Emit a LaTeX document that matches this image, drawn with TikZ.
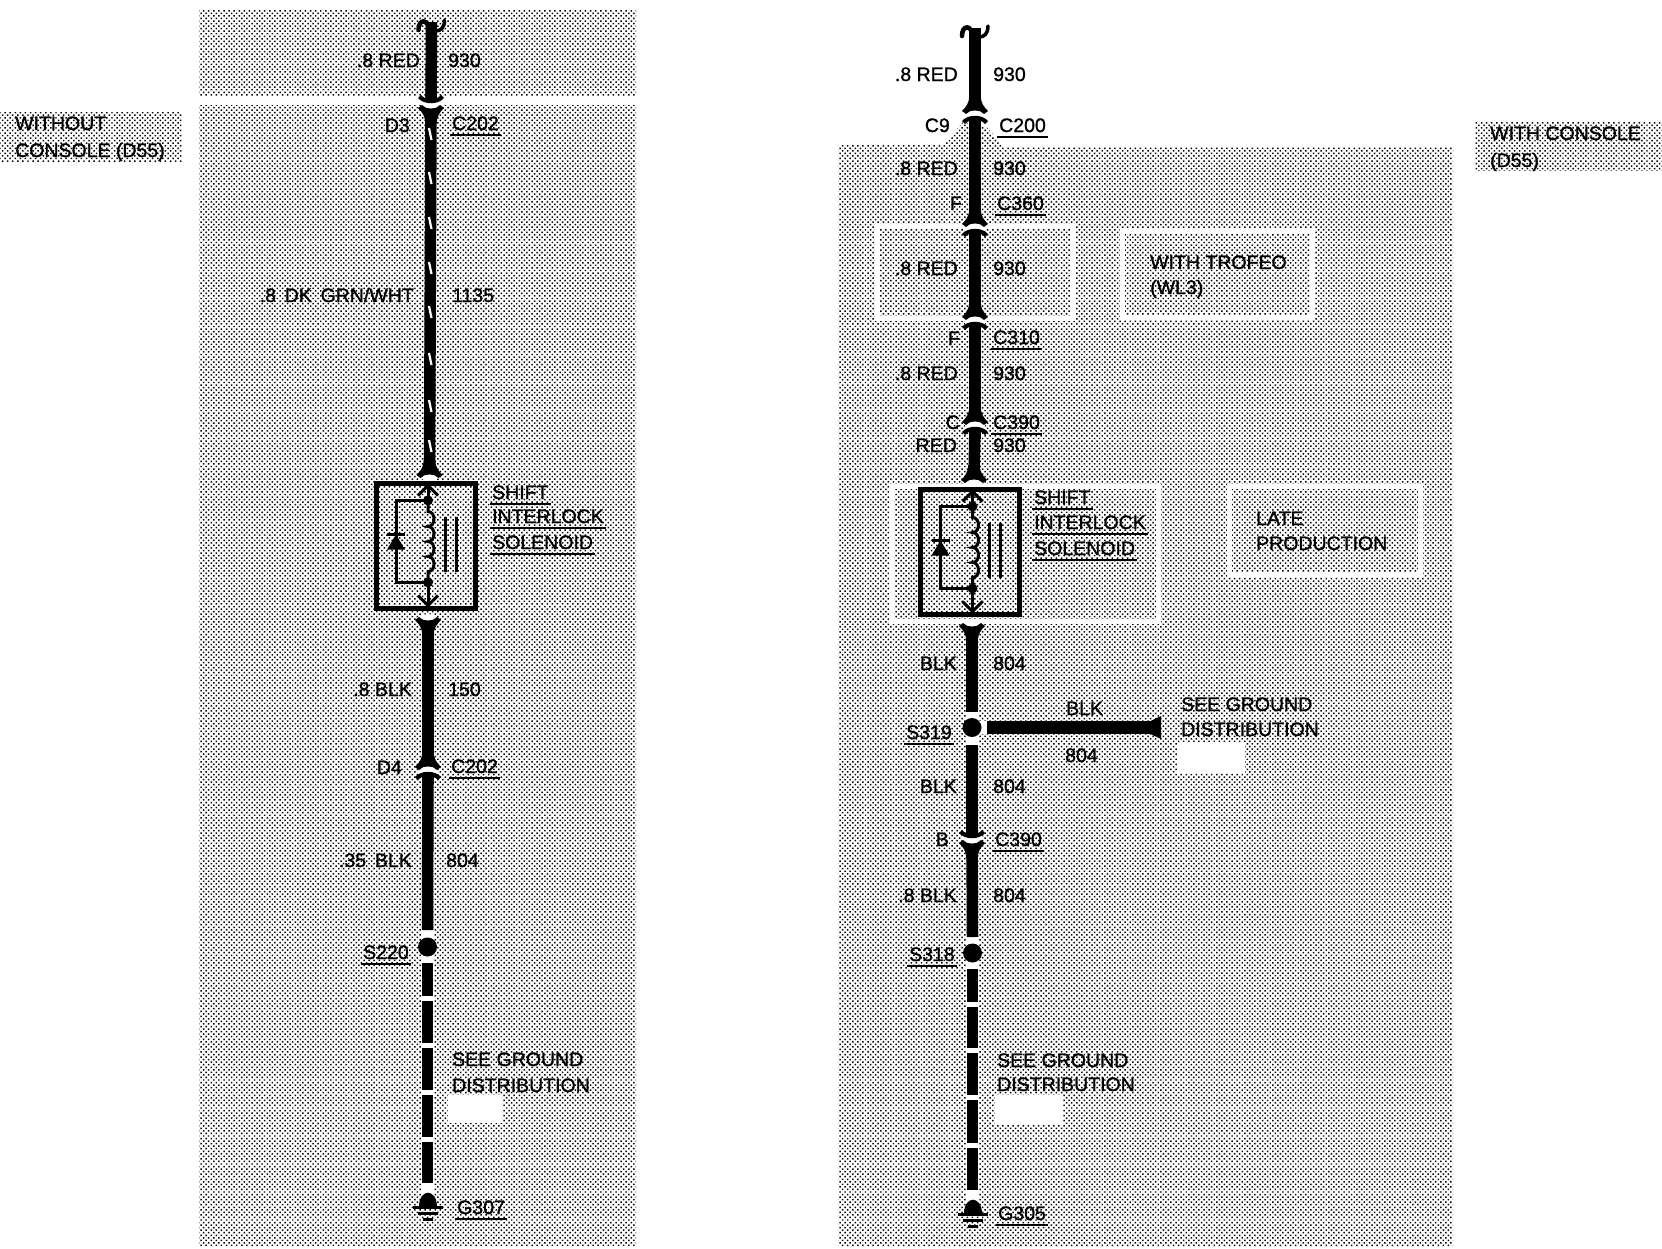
\documentclass[tikz,border=0pt]{standalone}
\usepackage{fontspec}
\setmainfont[FakeBold=1.1]{Liberation Sans}
\usetikzlibrary{patterns.meta}

\begin{document}
\begin{tikzpicture}[
  x=1pt,y=-1pt,
  font=\fontsize{19.5}{22}\selectfont,
  halftone/.style={pattern={Dots[radius=1.05pt,distance=3.6pt,angle=45]},pattern color=black},
  whitebox/.style={draw=white,line width=5pt},
  blank/.style={fill=white,inner sep=0pt},
  wire/.style={line width=11.5pt},
  halo/.style={line width=13pt,white},
  stripe/.style={white,line width=2.2pt},
  txt/.style={inner sep=0pt,text height=14pt,text depth=0pt},
  lft/.style={txt,anchor=east},
  rgt/.style={txt,anchor=west},
  ulabel/.style={rgt,append after command={
      ([xshift=-2pt,yshift=-5pt]\tikzlastnode.south west) edge[draw=black,line width=2.4pt]
      ([xshift=2pt,yshift=-5pt]\tikzlastnode.south east)}},
  splice/.style={circle,fill=black,minimum size=19pt,inner sep=0pt},
  fine/.style={line width=3pt},
  wire end/.pic={
    \draw[line width=4.5pt,line cap=round] (-13,8) .. controls (-13,-3) and (-4,-4) .. (-2,8);
    \draw[line width=3.5pt,line cap=round] (13,-2) .. controls (13,6) and (9,9) .. (4,9);
  },
  flare/.pic={
    \fill[white] (-9,2) .. controls (-5,-3) and (5,-3) .. (9,2)
      .. controls (5,6) and (-5,6) .. (-9,2) -- cycle;
    \fill (-5.75,-16) .. controls (-5.75,-9) and (-9,-5) .. (-13,-1) -- (-9,2)
      .. controls (-5,-3) and (5,-3) .. (9,2) -- (13,-1)
      .. controls (9,-5) and (5.75,-9) .. (5.75,-16) -- cycle;
  },
  plug/.pic={
    \fill[white] (-10,2) .. controls (-5,-3) and (5,-3) .. (10,2) -- (10,8)
      .. controls (5,3) and (-5,3) .. (-10,8) -- cycle;
    \fill (-5.75,-16) .. controls (-5.75,-9) and (-9,-5) .. (-13,-1) -- (-9,2)
      .. controls (-5,-3) and (5,-3) .. (9,2) -- (13,-1)
      .. controls (9,-5) and (5.75,-9) .. (5.75,-16) -- cycle;
    \fill (-13,9) .. controls (-7,2) and (7,2) .. (13,9) -- (10,12)
      .. controls (8,10) and (6.5,9) .. (5.75,9) -- (5.75,16) -- (-5.75,16)
      -- (-5.75,9) .. controls (-6.5,9) and (-8,10) .. (-10,12) -- cycle;
  },
  solenoid/.pic={
    \node[draw,line width=5pt,minimum width=99pt,minimum height=125pt,inner sep=0pt] (-box) at (-2.5,4.5) {};
    \draw[fine] (-10,-46) -- (0,-56) -- (10,-46);
    \draw[fine] (0,-56) -- (0,-41) -- (-32,-41) -- (-32,41) -- (0,41) -- (0,64);
    \draw[fine] (-10,54) -- (0,64) -- (10,54);
    \fill (0,-41) circle[radius=5];
    \fill (0,41) circle[radius=5];
    \draw[fine] (0,-41) -- (0,-30) .. controls (8,-30) and (8,-15) .. (0,-15)
      .. controls (8,-15) and (8,0) .. (0,0) .. controls (8,0) and (8,15) .. (0,15)
      .. controls (8,15) and (8,30) .. (0,30) -- (0,41);
    \draw[fine] (-41,-7) -- (-23,-7);
    \fill (-41,8) -- (-23,8) -- (-32,-7) -- cycle;
    \draw[fine] (17,-25) -- (17,30);
    \draw[fine] (28,-25) -- (28,30);
  },
  earth/.pic={
    \fill (-9,0) .. controls (-9,-19) and (9,-19) .. (9,0) -- cycle;
    \draw[fine] (-15,0) -- (15,0);
    \draw[fine] (-10,6) -- (10,6);
    \draw[fine] (-5,12) -- (5,12);
  }
]
\useasboundingbox (0,0) rectangle (1662,1248);

% -------------------------
% Shaded areas
% -------------------------
\fill[halftone] (199,10) rectangle (636,95);
\fill[halftone] (199,105) rectangle (636,1245);
\fill[halftone] (0,112) rectangle (182,161);
\fill[halftone] (1475,122) rectangle (1662,170);
\fill[halftone] (838,145) -- (943,145) -- (963,122) -- (988,128) -- (1003,147)
  -- (1453,147) -- (1453,1246) -- (838,1246) -- cycle;

\draw[whitebox] (877,226) rectangle (1072,318);
\draw[whitebox] (1122,231) rectangle (1312,317);
\draw[whitebox] (891,486) rectangle (1158,621);
\draw[whitebox] (1229,486) rectangle (1420,574);

% -------------------------
% Points on the wires
% -------------------------
% without console
\coordinate (topA) at (431.5,22);
\coordinate (plugA) at (431,107);
\coordinate (flareA) at (429.5,476);
\coordinate (flareAb) at (428,619);
\coordinate (plugAb) at (428,768);
\coordinate (wS220a) at (427.5,930);
\coordinate (wS220b) at (427.5,963);
\coordinate (gndA) at (427.5,1207);

% with console
\coordinate (topB) at (975,28);
\coordinate (plugB) at (975,112);
\coordinate (plugC) at (975,225);
\coordinate (plugD) at (975,318);
\coordinate (plugE) at (975,423);
\coordinate (flareB) at (974,481);
\coordinate (flareBb) at (972,625);
\coordinate (wS319a) at (972,712);
\coordinate (wS319b) at (972,745);
\coordinate (wS319c) at (987,727.5);
\coordinate (plugF) at (972,842);
\coordinate (wS318a) at (972.5,937);
\coordinate (wS318b) at (972.5,969);
\coordinate (gndB) at (972.5,1214);
\coordinate (tipB) at (1161,727.5);

% -------------------------
% Wires
% -------------------------
\draw[halo] (wS220a) -- (gndA);
\draw[halo] (wS318a) -- (gndB);
\draw[halo] (wS319a) -- (wS319b);
\draw[halo] (972,727.5) -- (wS319c);

\foreach \u/\v in {topA/plugA,plugA/flareA,flareAb/plugAb,plugAb/wS220a,
                  topB/plugB,plugB/plugC,plugC/plugD,plugD/plugE,plugE/flareB,
                  flareBb/wS319a,wS319b/plugF,plugF/wS318a} {
  \draw[wire] (\u) -- (\v);
}
\draw[wire,line width=13pt] (wS319c) -- (tipB);
\fill (tipB) -- ++(0,-11.5) -- ++(-24,11.5) -- ++(24,11.5) -- cycle;

% dashed run down to ground
\draw[wire,dash pattern=on 33pt off 5pt on 42pt off 5pt on 42pt off 5pt on 42pt off 5pt on 41pt off 99pt] (wS220b) -- (gndA);
\draw[wire,dash pattern=on 33pt off 5pt on 41pt off 5pt on 42pt off 5pt on 43pt off 5pt on 42pt off 99pt] (wS318b) -- (gndB);

% stripe on the green wire
\foreach \y in {128,172,217,262,306,353,400,440} {
  \draw[stripe] (429,\y) -- (431.5,\y+12);
}

% -------------------------
% Connectors, splices, solenoids
% -------------------------
\pic at (topA) {wire end};
\pic at (topB) {wire end};
\pic[yscale=-1] at (plugA) {plug};
\pic at (plugAb) {plug};
\pic at (plugB) {plug};
\pic at (plugC) {plug};
\pic at (plugD) {plug};
\pic at (plugE) {plug};
\pic[yscale=-1] at (plugF) {plug};
\pic at (flareA) {flare};
\pic[yscale=-1] at (flareAb) {flare};
\pic at (flareB) {flare};
\pic[yscale=-1] at (flareBb) {flare};

\pic (solA) at (428,541.5) {solenoid};
\pic (solB) at (972.5,547.5) {solenoid};

\node[splice] (S220) at (427.5,947) {};
\node[splice] (S319) at (972,727.5) {};
\node[splice] (S318) at (972.5,953) {};
\pic at (gndA) {earth};
\pic at (gndB) {earth};

% -------------------------
% Blank patches
% -------------------------
\node[blank,minimum width=54pt,minimum height=28pt] (patchA) at (475,1109) {};
\node[blank,minimum width=68pt,minimum height=30pt] (patchB) at (1029,1110) {};
\node[blank,minimum width=68pt,minimum height=31pt] (patchC) at (1211,757.5) {};

% -------------------------
% Labels: without console
% -------------------------
\node[rgt] (headA) at (15,123) {WITHOUT};
\node[rgt] (headAb) at (15,150) {CONSOLE (D55)};
\node[lft] (redA) at (420,60) {.8 RED};
\node[rgt] (numA) at (448,60) {930};
\node[lft] (pinA) at (410,125) {D3};
\node[ulabel] (connA) at (452,123) {C202};
\node[lft] (grnA) at (414,295) {\spaceskip=.45em .8 DK GRN/WHT};
\node[rgt] (numAb) at (452,295) {1135};
\node[ulabel] (shiftA) at (492,492) {SHIFT};
\node[ulabel] (lockA) at (492,516) {INTERLOCK};
\node[ulabel] (coilA) at (492,542) {SOLENOID};
\node[lft] (blkA) at (412,689) {.8 BLK};
\node[rgt] (numAc) at (448,689) {150};
\node[lft] (pinAb) at (402,767) {D4};
\node[ulabel] (connAb) at (451,766) {C202};
\node[lft] (blkAb) at (412,860) {\spaceskip=.45em .35 BLK};
\node[rgt] (numAd) at (446,860) {804};
\node[ulabel] (spA) at (363,952) {S220};
\node[rgt] (seeA) at (452,1059) {SEE GROUND};
\node[rgt] (seeAb) at (452,1085) {DISTRIBUTION};
\node[ulabel] (gA) at (457,1207) {G307};

% -------------------------
% Labels: with console
% -------------------------
\node[rgt] (headB) at (1490,133) {WITH CONSOLE};
\node[rgt] (headBb) at (1490,160) {(D55)};
\node[lft] (redB) at (958,74) {.8 RED};
\node[rgt] (numB) at (993,74) {930};
\node[lft] (pinB) at (950,125) {C9};
\node[ulabel] (connB) at (999,125) {C200};
\node[lft] (redC) at (958,168) {.8 RED};
\node[rgt] (numC) at (993,168) {930};
\node[lft] (pinC) at (962,203) {F};
\node[ulabel] (connC) at (997,203) {C360};
\node[lft] (redD) at (958,268) {.8 RED};
\node[rgt] (numD) at (993,268) {930};
\node[rgt] (trofB) at (1150,262) {WITH TROFEO};
\node[rgt] (trofBb) at (1150,287) {(WL3)};
\node[lft] (pinD) at (960,338) {F};
\node[ulabel] (connD) at (993,337) {C310};
\node[lft] (redE) at (958,373) {.8 RED};
\node[rgt] (numE) at (993,373) {930};
\node[lft] (pinE) at (960,422) {C};
\node[ulabel] (connE) at (993,422) {C390};
\node[lft] (redF) at (957,445) {RED};
\node[rgt] (numF) at (993,445) {930};
\node[ulabel] (shiftB) at (1034,497) {SHIFT};
\node[ulabel] (lockB) at (1034,522) {INTERLOCK};
\node[ulabel] (coilB) at (1034,548) {SOLENOID};
\node[rgt] (lateB) at (1256,518) {LATE};
\node[rgt] (lateBb) at (1256,543) {PRODUCTION};
\node[lft] (blkB) at (957,663) {BLK};
\node[rgt] (numG) at (993,663) {804};
\node[ulabel] (spB) at (906,732) {S319};
\node[rgt] (blkC) at (1066,708) {BLK};
\node[rgt] (numH) at (1065,755) {804};
\node[rgt] (seeB) at (1181,704) {SEE GROUND};
\node[rgt] (seeBb) at (1181,729) {DISTRIBUTION};
\node[lft] (blkD) at (957,786) {BLK};
\node[rgt] (numI) at (993,786) {804};
\node[lft] (pinF) at (949,839) {B};
\node[ulabel] (connF) at (995,839) {C390};
\node[lft] (blkE) at (957,895) {.8 BLK};
\node[rgt] (numJ) at (993,895) {804};
\node[ulabel] (spC) at (909,954) {S318};
\node[rgt] (seeC) at (997,1060) {SEE GROUND};
\node[rgt] (seeCb) at (997,1084) {DISTRIBUTION};
\node[ulabel] (gB) at (998,1213) {G305};

\end{tikzpicture}
\end{document}
